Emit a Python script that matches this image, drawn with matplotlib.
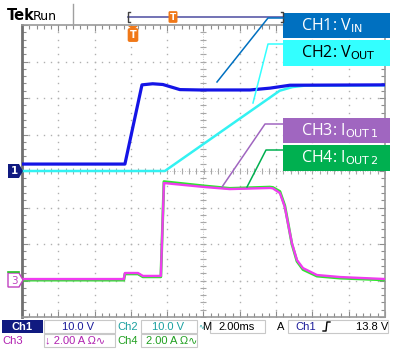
import numpy as np
import matplotlib.pyplot as plt
from matplotlib.patches import Rectangle, Polygon

# time in ms (2 ms/div, trigger 3 div from left edge)
ch1_t = [-6.0, -0.33, 0.61, 1.2, 1.76, 2.7, 3.8, 6.56, 7.66, 8.76, 14.0]
ch1_v = [1.9, 1.9, 23.6, 23.9, 23.7, 22.3, 22.2, 22.2, 22.7, 23.5, 23.6]

ch2_t = [-6.0, 1.87, 8.2, 8.9, 9.6, 14.0]
ch2_v = [0.0, 0.0, 22.0, 23.0, 23.4, 23.5]

ch3_t = [-6.0, -0.39, -0.33, 0.39, 0.66, 1.65, 1.82, 4.08, 5.45, 7.66, 7.82,
         8.21, 8.48, 8.65, 8.87, 9.15, 9.48, 10.25, 11.52, 14.0]
ch3_i = [0.08, 0.08, 0.41, 0.41, 0.25, 0.25, 5.34, 5.12, 5.01, 5.07, 5.05,
         4.79, 4.03, 3.15, 2.05, 1.12, 0.68, 0.30, 0.19, 0.08]
ch4_i = [0.02, 0.02, 0.36, 0.36, 0.20, 0.20, 5.42, 5.18, 5.05, 5.12, 5.10,
         4.88, 4.10, 3.20, 2.00, 1.05, 0.60, 0.24, 0.13, 0.03]

volts_div = 10.0
amps_div = 2.0
ch34_offset = -3.0

W, H = 400, 353
fig = plt.figure(figsize=(4.0, 3.53), dpi=100)
fig.patch.set_facecolor('white')

# graticule axes, pixel box 22..385 x 25..317
ax = fig.add_axes([22 / W, 1 - 317 / H, 363 / W, 292 / H])
ax.set_xlim(-6, 14)
ax.set_ylim(-4, 4)
ax.set_facecolor('white')
for s in ax.spines.values():
    s.set_color('#9a9a9a')
    s.set_linewidth(1.2)
ax.spines['left'].set_color('#707070')
ax.spines['left'].set_linewidth(2.0)
ax.set_xticks(np.arange(-6, 14.1, 2))
ax.set_yticks(np.arange(-4, 4.1, 1))
ax.set_xticks(np.arange(-6, 14.1, 0.4), minor=True)
ax.set_yticks(np.arange(-4, 4.1, 0.2), minor=True)
ax.tick_params(which='both', direction='in', top=True, right=True,
               labelbottom=False, labelleft=False, color='#8c8c8c', width=0.8)
ax.tick_params(which='major', length=4)
ax.tick_params(which='minor', length=3)

# dotted grid
dot_x = np.arange(-6, 14.01, 0.4)
dot_y = np.arange(-4, 4.01, 0.2)
for gx in np.arange(-4, 13, 2):
    ax.plot(np.full_like(dot_y, gx), dot_y, ls='none', marker='s', ms=1.0,
            color='#b0b0b0', mew=0, zorder=1)
for gy in [-3, -2, -1, 1, 2, 3]:
    ax.plot(dot_x, np.full_like(dot_x, gy), ls='none', marker='s', ms=1.0,
            color='#b0b0b0', mew=0, zorder=1)
# center cross ticks
ax.plot(dot_x, np.zeros_like(dot_x), ls='none', marker='|', ms=5,
        color='#a8a8a8', mew=0.8, zorder=1)
ax.plot(np.full_like(dot_y, 4.0), dot_y, ls='none', marker='_', ms=5,
        color='#a8a8a8', mew=0.8, zorder=1)
ax.axhline(0, color='#b8b8b8', lw=0.6, ls=(0, (1, 2)), zorder=1)
ax.axvline(4, color='#b8b8b8', lw=0.6, ls=(0, (1, 2)), zorder=1)

# traces
ax.plot(ch2_t, np.array(ch2_v) / volts_div, color='#33f2f2', lw=1.8, zorder=3)
ax.plot(ch1_t, np.array(ch1_v) / volts_div, color='#1414e6', lw=2.3, zorder=4)
ax.plot(ch3_t, np.array(ch4_i) / amps_div + ch34_offset, color='#2ee62e',
        lw=2.0, zorder=3)
ax.plot(ch3_t, np.array(ch3_i) / amps_div + ch34_offset, color='#f03cf0',
        lw=1.7, zorder=4)

# overlay in pixel coordinates
ov = fig.add_axes([0, 0, 1, 1])
ov.set_xlim(0, W)
ov.set_ylim(H, 0)
ov.axis('off')
ov.patch.set_alpha(0)

# header
ov.text(7, 16, 'Tek', fontsize=10.5, fontweight='bold', family='DejaVu Sans',
        va='center', ha='left', color='black')
ov.text(33, 16, 'Run', fontsize=9, family='DejaVu Sans', va='center',
        ha='left', color='black')
ov.plot([73, 73], [4, 25], color='#a0a0a0', lw=1)
ov.plot([128, 283], [17, 17], color='#5a5aa8', lw=1.2)
ov.plot([130, 128, 128, 130], [12, 12, 22, 22], color='#404040', lw=1)
ov.plot([281, 283, 283, 281], [12, 12, 22, 22], color='#404040', lw=1)
ov.text(173, 17, 'T', fontsize=6.5, fontweight='bold', color='white',
        ha='center', va='center',
        bbox=dict(boxstyle='round,pad=0.15', fc='#f07818', ec='none'))
ov.add_patch(Polygon([[128, 26], [138, 26], [133, 30]], closed=True,
                     fc='#f07818', ec='none'))
ov.text(133, 35, 'T', fontsize=7, fontweight='bold', color='white',
        ha='center', va='center',
        bbox=dict(boxstyle='round,pad=0.2', fc='#f07818', ec='none'))

# channel ground markers
ov.add_patch(Polygon([[8, 164], [19, 164], [23, 171], [19, 178], [8, 178]],
                     closed=True, fc='#101a80', ec='none'))
ov.text(14, 171.5, '1', fontsize=7.5, fontweight='bold', color='white',
        ha='center', va='center')
ov.plot([8, 19], [272, 272], color='#22c022', lw=1.2)
ov.add_patch(Polygon([[8, 273], [19, 273], [23, 280], [19, 287], [8, 287]],
                     closed=True, fc='white', ec='#c040c0', lw=1))
ov.text(14, 280.5, '3', fontsize=7.5, color='#c040c0',
        ha='center', va='center')

# legend boxes with leader lines
legend = [
    ('CH1: V$_{\\mathrm{IN}}$', '#0070c0', 'white', 13, 38, [(217, 82), (268, 18), (283, 18)]),
    ('CH2: V$_{\\mathrm{OUT}}$', '#33ffff', 'black', 40, 66, [(253, 103), (268, 44), (283, 44)]),
    ('CH3: I$_{\\mathrm{OUT\\,1}}$', '#a066c0', 'white', 118, 143, [(222, 187), (265, 124), (283, 124)]),
    ('CH4: I$_{\\mathrm{OUT\\,2}}$', '#00b050', 'white', 145, 171, [(247, 187), (266, 150), (283, 150)]),
]
for label, fc, tc, y0, y1, pts in legend:
    xs, ys = zip(*pts)
    ov.plot(xs, ys, color=fc, lw=1.1)
    ov.add_patch(Rectangle((283, y0), 107, y1 - y0, fc=fc, ec='none'))
    ov.text(301, (y0 + y1) / 2, label, fontsize=11.5, family='Open Sans',
            color=tc, ha='left', va='center')

# status bar
navy = '#1a1a99'
teal = '#1aa0a0'
mag = '#b020b0'
grn = '#20a020'
fs = 8
fam = 'Liberation Sans'
ov.add_patch(Rectangle((2, 320), 41, 13, fc='#101a80', ec='none'))
ov.text(22, 326.5, 'Ch1', fontsize=fs, color='white', ha='center',
        va='center', fontweight='bold', family=fam)
for x0, w, y0 in [(44, 71, 320), (141, 56, 320), (210, 55, 320),
                  (288, 100, 320), (44, 71, 334), (141, 56, 334)]:
    ov.add_patch(Rectangle((x0, y0), w, 13, fc='white', ec='#c8c8c8', lw=0.8))
ov.text(78, 326.5, '10.0 V', fontsize=fs, color=navy, ha='center', va='center', family=fam)
ov.text(117, 326.5, 'Ch2', fontsize=fs, color=teal, ha='left', va='center', family=fam)
ov.text(168, 326.5, '10.0 V', fontsize=fs, color=teal, ha='center', va='center', family=fam)
ov.text(198, 326.5, '∿', fontsize=5, color=teal, ha='left', va='center')
ov.text(202.5, 326.5, 'M', fontsize=fs, color='black', ha='left', va='center', family=fam)
ov.text(237, 326.5, '2.00ms', fontsize=fs, color='black', ha='center', va='center', family=fam)
ov.text(281, 326.5, 'A', fontsize=fs, color='black', ha='center', va='center', family=fam)
ov.text(295, 326.5, 'Ch1', fontsize=fs, color=navy, ha='left', va='center', family=fam)
ov.plot([323, 326, 327, 330], [331, 331, 322, 322], color='black', lw=1)
ov.text(388, 326.5, '13.8 V', fontsize=fs, color='black', ha='right', va='center', family=fam)
ov.text(2, 340.5, 'Ch3', fontsize=fs, color=mag, ha='left', va='center', family=fam)
ov.text(45, 340.5, '↓ 2.00 A Ω∿', fontsize=fs, color=mag, ha='left', va='center',
        family=[fam, 'DejaVu Sans'])
ov.text(117, 340.5, 'Ch4', fontsize=fs, color=grn, ha='left', va='center', family=fam)
ov.text(197, 340.5, '2.00 A Ω∿', fontsize=fs, color=grn, ha='right', va='center',
        family=[fam, 'DejaVu Sans'])

fig.savefig('out.png', dpi=100, facecolor='white')
